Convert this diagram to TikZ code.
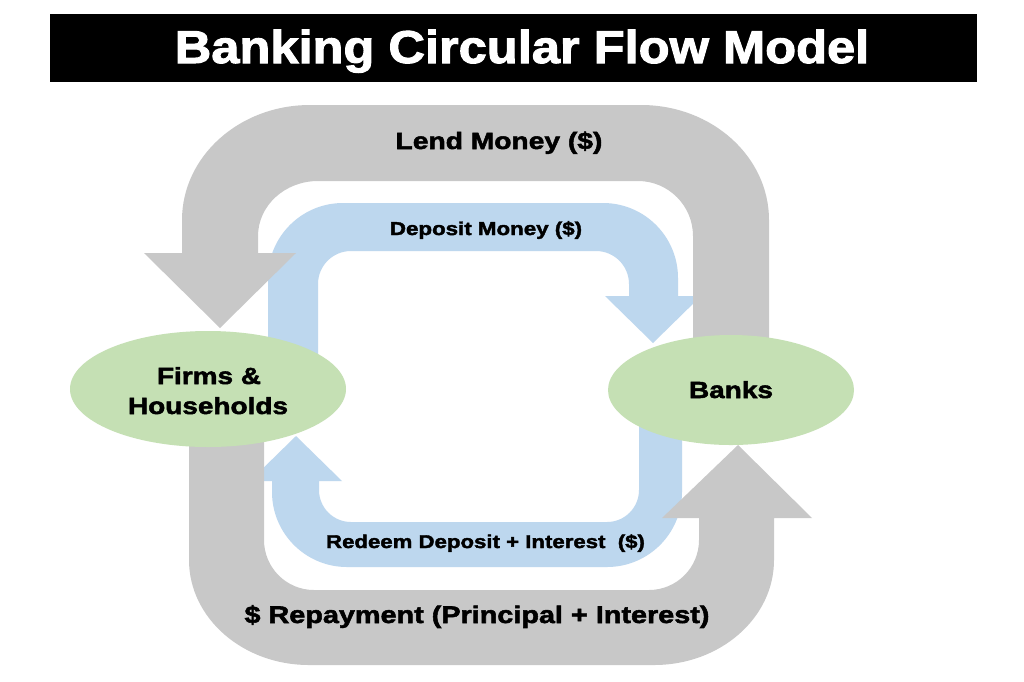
\documentclass[tikz,border=0pt]{standalone}
\usepackage{fontspec}
\setmainfont{Liberation Sans}
\newfontfamily\titlefont{Liberation Sans}[UprightFont={* Bold}, FakeStretch=1.1, FakeBold=2.2]
\newfontfamily\labfont{Liberation Sans}[UprightFont={* Bold}, FakeStretch=1.2, FakeBold=2.2]
\usetikzlibrary{shapes.geometric}
\definecolor{gband}{HTML}{C8C8C8}
\definecolor{bband}{HTML}{BDD7EE}
\definecolor{gnode}{HTML}{C5E0B4}
\begin{document}
\begin{tikzpicture}[x=1pt,y=-1pt,
  band/.style={fill=#1, draw=none},
  agent/.style={ellipse, fill=gnode, draw=none, inner sep=0pt},
  lab/.style={anchor=base, inner sep=0pt, text=black},
  ]
\useasboundingbox[fill=white] (0,0) rectangle (1024,681);
% title
\node[fill=black, minimum width=927pt, minimum height=68pt, inner sep=0pt] (titlebox) at (513.5,48) {};
\node[lab, text=white, font={\titlefont\fontsize{46}{50}\selectfont}] (title) at (522,63) {Banking Circular Flow Model};
% blue top band (Deposit Money)
\fill[band=bband] (653,343) -- (605,296) -- (629,296) -- (629,284)
  arc[start angle=0,end angle=-90,radius=33] -- (351,251)
  arc[start angle=-90,end angle=-180,radius=33] -- (318,360) -- (268,360) -- (268,278)
  arc[start angle=180,end angle=270,radius=75] -- (603,203)
  arc[start angle=270,end angle=360,radius=75] -- (678,296) -- (701,296) -- cycle;
% blue bottom band (Redeem)
\fill[band=bband] (296,436) -- (342,481) -- (319,481) -- (319,490)
  arc[start angle=180,end angle=90,radius=32] -- (607,522)
  arc[start angle=90,end angle=0,radius=32] -- (639,420) -- (682,420) -- (682,492)
  arc[start angle=0,end angle=90,radius=75] -- (347,567)
  arc[start angle=90,end angle=180,radius=75] -- (272,481) -- (250,481) -- cycle;
% gray top band (Lend Money)
\fill[band=gband] (220,328) -- (296,253) -- (258,253) -- (258,236)
  arc[start angle=180,end angle=270,x radius=60,y radius=55] -- (638,181)
  arc[start angle=270,end angle=360,radius=55] -- (693,350) -- (769,350) -- (769,220)
  arc[start angle=0,end angle=-90,x radius=128,y radius=115] -- (310,105)
  arc[start angle=-90,end angle=-180,x radius=128,y radius=115] -- (182,253) -- (144,253) -- cycle;
% gray bottom band (Repayment)
\fill[band=gband] (738,445) -- (812,518) -- (774,518) -- (774,560)
  arc[start angle=0,end angle=90,x radius=120,y radius=105] -- (309,665)
  arc[start angle=90,end angle=180,x radius=120,y radius=105] -- (189,440) -- (264,440) -- (264,540)
  arc[start angle=180,end angle=90,radius=50] -- (649,590)
  arc[start angle=90,end angle=0,radius=50] -- (699,518) -- (662,518) -- cycle;
% agents
\node[agent, minimum width=276pt, minimum height=116pt] (firms) at (208,389) {};
\node[agent, minimum width=246pt, minimum height=110pt] (banks) at (731,390) {};
% labels
\node[lab, font={\labfont\fontsize{23.5}{28}\selectfont}] (lend) at (499,149) {Lend Money (\$)};
\node[lab, font={\labfont\fontsize{18.6}{22}\selectfont}] (deposit) at (486,235) {Deposit Money (\$)};
\node[lab, font={\labfont\fontsize{23.3}{28}\selectfont}] (firmsA) at (209,384) {Firms \&};
\node[lab, font={\labfont\fontsize{23.3}{28}\selectfont}] (firmsB) at (208,414) {Households};
\node[lab, font={\labfont\fontsize{23.3}{28}\selectfont}] (bankst) at (731,398) {Banks};
\node[lab, font={\labfont\fontsize{18.5}{22}\selectfont}] (redeem) at (485.5,548) {Redeem Deposit + Interest~~(\$)};
\node[lab, font={\labfont\fontsize{24}{28}\selectfont}] (repay) at (477,623) {\$ Repayment (Principal + Interest)};
\end{tikzpicture}
\end{document}
